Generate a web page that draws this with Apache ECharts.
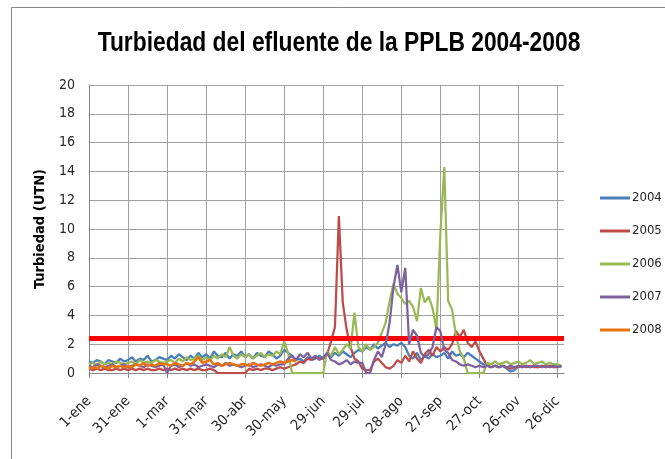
<!DOCTYPE html>
<html>
<head>
<meta charset="utf-8">
<script src="https://cdn.jsdelivr.net/npm/echarts@6/dist/echarts.min.js"></script>
<style>
html,body{margin:0;padding:0;background:#fff;}
#chart{width:665px;height:459px;}
</style>
</head>
<body>
<div id="chart"></div>
<script>
// ---- data ----
const titleText = 'Turbiedad del efluente de la PPLB 2004-2008';
const yAxisName = 'Turbiedad (UTN)';
const tickLabels = ['1-ene','31-ene','1-mar','31-mar','30-abr','30-may','29-jun','29-jul','28-ago','27-sep','27-oct','26-nov','26-dic'];
const tickStep = 30;      // days between tick labels
const dayCount = 366;     // days on the axis (leap year)
const sampleStep = 3;     // days between stored readings
const seriesNames = ['2004','2005','2006','2007','2008'];
const umbral = 2.4;       // threshold line (UTN)

const v2004 = [
 0.8,0.7,0.9,0.8,0.6,0.9,0.8,0.7,1.0,0.8,
 0.9,1.1,0.8,1.0,0.9,1.2,0.8,0.9,1.1,1.0,
 0.9,1.2,1.0,1.3,1.1,0.9,1.2,1.0,1.4,1.1,
 1.3,1.0,1.5,1.2,1.1,1.4,1.0,1.3,1.2,1.5,
 1.1,1.3,1.0,1.4,1.2,1.1,1.5,1.3,1.0,1.2,
 1.6,1.4,1.2,0.9,1.0,0.8,1.1,0.9,1.0,1.2,
 1.0,1.3,1.1,1.4,1.2,1.5,1.3,1.1,1.4,1.6,
 1.5,1.8,1.6,2.0,1.7,1.9,2.1,1.8,2.0,1.9,
 2.1,1.8,1.2,1.0,1.4,0.9,1.2,1.0,1.3,1.1,
 1.2,1.4,1.0,1.5,1.2,1.3,1.1,1.4,1.2,1.0,
 0.8,0.6,0.5,0.4,0.5,0.4,0.5,0.3,0.1,0.2,
 0.5,0.4,0.5,0.4,0.5,0.4,0.5,0.4,0.5,0.4,
 0.5,0.4
];
const v2005 = [
 0.3,0.2,0.3,0.2,0.3,0.2,0.2,0.3,0.2,0.3,
 0.2,0.3,0.2,0.3,0.2,0.3,0.2,0.2,0.3,0.2,
 0.3,0.2,0.3,0.2,0.3,0.2,0.3,0.2,0.3,0.2,
 0.2,0.3,0.2,0.0,0.0,0.0,0.0,0.0,0.0,0.0,
 0.0,0.3,0.2,0.3,0.2,0.3,0.3,0.2,0.3,0.4,
 0.3,0.4,0.5,0.6,0.8,0.7,1.0,0.9,1.1,1.0,
 1.0,1.3,2.2,3.2,10.9,4.9,3.0,1.8,1.0,0.8,
 0.3,0.2,0.2,0.8,1.0,0.7,0.4,0.3,0.5,0.9,
 0.7,1.2,0.8,1.5,1.0,0.7,1.3,1.6,1.2,1.8,
 1.5,1.8,1.6,2.0,2.9,2.5,3.0,2.1,1.8,2.2,
 1.5,1.0,0.5,0.4,0.5,0.4,0.5,0.4,0.3,0.4,
 0.4,0.5,0.4,0.5,0.4,0.4,0.5,0.4,0.5,0.4,
 0.4,0.5
];
const v2006 = [
 0.6,0.7,0.5,0.8,0.6,0.7,0.6,0.8,0.7,0.6,
 0.7,0.8,0.6,0.9,0.7,0.8,0.7,0.9,0.8,0.7,
 0.8,0.9,0.7,1.0,0.8,1.1,0.9,1.0,1.2,0.9,
 1.1,0.9,1.2,1.0,1.3,1.1,1.8,1.2,1.0,1.3,
 1.1,1.3,1.0,1.2,1.4,1.1,1.3,1.2,1.5,1.3,
 2.2,1.4,0.0,0.0,0.0,0.0,0.0,0.0,0.0,0.0,
 0.0,1.5,1.2,1.8,1.3,1.6,2.0,1.7,4.2,1.8,
 1.5,2.0,1.6,1.8,2.1,2.8,3.5,5.0,6.2,5.5,
 5.2,4.8,5.0,4.6,3.6,5.9,4.9,5.3,4.5,3.0,
 9.7,14.3,5.0,4.4,2.6,1.5,1.0,0.0,0.0,0.0,
 0.0,0.0,0.7,0.6,0.8,0.6,0.7,0.8,0.6,0.7,
 0.8,0.6,0.7,0.9,0.6,0.7,0.8,0.6,0.7,0.6,
 0.6,0.5
];
const v2007 = [
 0.5,0.4,0.6,0.5,0.4,0.5,0.6,0.4,0.5,0.6,
 0.4,0.5,0.6,0.5,0.4,0.6,0.5,0.4,0.5,0.6,
 0.0,0.5,0.6,0.4,0.5,0.7,0.5,0.6,0.4,0.5,
 0.6,0.5,0.4,0.6,0.5,0.7,0.5,0.6,0.5,0.4,
 0.5,0.6,0.4,0.5,0.6,0.5,0.4,0.6,0.5,0.6,
 0.6,1.0,1.2,0.9,1.3,1.1,1.4,1.0,1.2,0.9,
 1.1,1.4,0.9,0.8,0.6,0.7,0.9,0.6,0.8,0.7,
 0.7,0.0,0.0,0.9,1.5,1.1,2.0,3.5,6.0,7.5,
 5.6,7.3,2.0,3.0,2.6,1.4,1.1,1.3,1.8,3.2,
 2.9,1.6,1.4,0.9,0.8,0.6,0.5,0.6,0.5,0.4,
 0.5,0.4,0.5,0.4,0.5,0.4,0.5,0.4,0.5,0.4,
 0.5,0.4,0.5,0.4,0.5,0.5,0.4,0.5,0.4,0.5,
 0.4,0.5
];
const v2008 = [
 0.3,0.4,0.3,0.5,0.4,0.3,0.5,0.4,0.5,0.4,
 0.5,0.4,0.6,0.5,0.7,0.5,0.6,0.5,0.7,0.6,
 0.6,0.5,0.7,0.6,0.5,0.7,0.6,0.8,1.1,0.7,
 0.8,0.9,0.6,0.7,0.5,0.6,0.7,0.6,0.5,0.6,
 0.6,0.5,0.7,0.6,0.5,0.6,0.7,0.6,0.7,0.8,
 0.7,0.8,0.9,0.8
];
const seriesValues = [v2004, v2005, v2006, v2007, v2008];
const seriesColors = ['#4A7EBB','#BE4B48','#98B954','#7D60A0','#E8720C'];

// ---- build ----
const categories = [];
for (let d = 0; d < dayCount; d++) {
  categories.push(d % tickStep === 0 && tickLabels[d / tickStep] !== undefined ? tickLabels[d / tickStep] : '');
}
const isTick = (idx) => idx % tickStep === 0 && idx / tickStep < tickLabels.length;

const font = "'DejaVu Sans Condensed','Liberation Sans',sans-serif";
const series = seriesNames.map((name, k) => ({
  name: name,
  type: 'line',
  data: seriesValues[k].map((v, i) => [i * sampleStep, v]),
  showSymbol: false,
  symbol: 'none',
  lineStyle: { width: k === 4 ? 2.5 : 2.25, color: seriesColors[k] },
  itemStyle: { color: seriesColors[k] },
  z: 2 + k
}));
series.push({
  name: 'umbral',
  type: 'line',
  data: [],
  z: 20,
  markLine: {
    silent: true,
    symbol: 'none',
    label: { show: false },
    lineStyle: { color: '#FF0000', width: 5, type: 'solid' },
    data: [{ yAxis: umbral }]
  }
});

const chart = echarts.init(document.getElementById('chart'), null, { renderer: 'canvas' });
chart.setOption({
  animation: false,
  backgroundColor: '#ffffff',
  graphic: [{
    type: 'rect',
    shape: { x: 11.5, y: 7.5, width: 700, height: 500 },
    style: { fill: 'none', stroke: '#868686', lineWidth: 1 },
    silent: true
  }, {
    type: 'text',
    x: 339,
    y: 30,
    scaleX: 0.845,
    style: {
      text: titleText,
      font: "bold 27px 'Liberation Sans', Arial, sans-serif",
      fill: '#000',
      textAlign: 'center',
      textVerticalAlign: 'top'
    },
    silent: true
  }],
  legend: {
    data: seriesNames,
    orient: 'vertical',
    left: 600,
    top: 191,
    padding: 0,
    itemWidth: 30,
    itemHeight: 3,
    itemGap: 19,
    icon: 'rect',
    textStyle: { fontSize: 13, color: '#262626', fontFamily: font, lineHeight: 14, padding: [0, 0, 0, -3] }
  },
  grid: { left: 89, right: 101, top: 85, bottom: 86, containLabel: false },
  xAxis: {
    type: 'category',
    data: categories,
    boundaryGap: false,
    axisLine: { lineStyle: { color: '#868686' } },
    axisTick: { show: true, interval: (i) => isTick(i), length: 5, lineStyle: { color: '#868686' } },
    axisLabel: { interval: (i) => isTick(i), rotate: 45, fontSize: 14.5, color: '#262626', fontFamily: font, margin: 26 },
    splitLine: { show: true, interval: (i) => isTick(i) && i > 0, lineStyle: { color: '#A0A0A0', width: 1 } }
  },
  yAxis: {
    type: 'value',
    min: 0, max: 20, interval: 2,
    name: yAxisName,
    nameLocation: 'middle',
    nameGap: 38,
    nameTextStyle: { fontSize: 14.5, fontWeight: 'bold', color: '#000', fontFamily: font },
    axisLine: { show: true, lineStyle: { color: '#868686' } },
    axisTick: { show: false },
    axisLabel: { fontSize: 14, color: '#262626', fontFamily: font, margin: 14 },
    splitLine: { show: true, lineStyle: { color: '#A0A0A0', width: 1 } }
  },
  series: series
});
</script>
</body>
</html>
